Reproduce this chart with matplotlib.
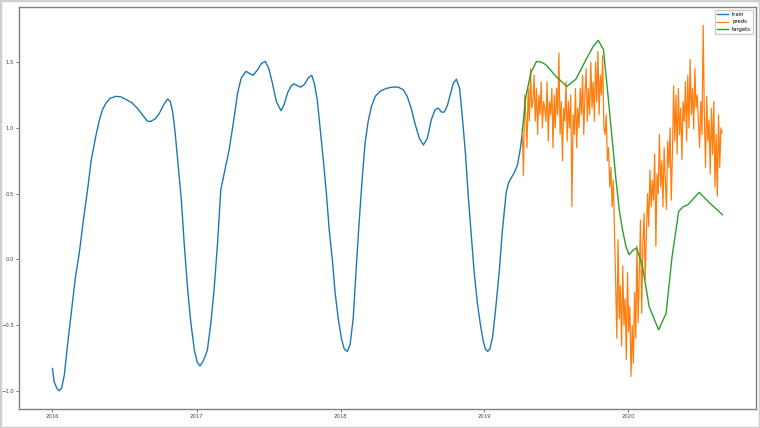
import pandas as pd
import matplotlib
matplotlib.use("Agg")
import matplotlib.pyplot as plt
import matplotlib.dates as mdates
from matplotlib.patches import Rectangle

# train: (days since 2016-01-01, value)
train_day = [0, 4, 11, 17, 23, 30, 37, 47, 58, 68, 78, 89, 98, 110, 119, 127, 136, 146,
             161, 174, 187, 202, 215, 228, 241, 250, 261, 271, 281, 292, 299, 305, 311,
             318, 327, 334, 343, 351, 360, 367, 374, 381, 387, 393, 402, 410, 419, 427,
             436, 448, 458, 470, 479, 491, 499, 509, 520, 530, 540, 549, 558, 568, 580,
             588, 597, 606, 613, 622, 630, 639, 649, 658, 665, 672, 679, 687, 695, 702,
             710, 717, 725, 733, 740, 748, 755, 763, 770, 778, 786, 793, 801, 809, 819,
             832, 847, 862, 877, 890, 900, 910, 920, 931, 941, 951, 961, 971, 979, 987,
             994, 1002, 1010, 1017, 1025, 1033, 1040, 1048, 1055, 1063, 1070, 1078, 1086,
             1093, 1098, 1104, 1110, 1117, 1125, 1134, 1141, 1151, 1157, 1164, 1172, 1180,
             1187, 1192]
train_val = [-0.83, -0.93, -0.98, -1.00, -0.98, -0.88, -0.68, -0.42, -0.14, 0.05, 0.29,
             0.53, 0.75, 0.94, 1.06, 1.14, 1.19, 1.225, 1.24, 1.235, 1.215, 1.19, 1.15,
             1.10, 1.05, 1.05, 1.07, 1.11, 1.17, 1.22, 1.20, 1.12, 0.97, 0.74, 0.45, 0.13,
             -0.23, -0.48, -0.69, -0.78, -0.81, -0.78, -0.74, -0.69, -0.48, -0.23, 0.13,
             0.53, 0.66, 0.83, 1.02, 1.27, 1.38, 1.43, 1.415, 1.40, 1.44, 1.49, 1.505,
             1.45, 1.34, 1.20, 1.13, 1.18, 1.27, 1.32, 1.335, 1.32, 1.31, 1.33, 1.38, 1.40,
             1.33, 1.21, 1.00, 0.76, 0.50, 0.23, 0.00, -0.25, -0.45, -0.60, -0.68, -0.70,
             -0.65, -0.45, -0.10, 0.28, 0.62, 0.88, 1.05, 1.16, 1.24, 1.28, 1.30, 1.31,
             1.31, 1.29, 1.24, 1.15, 1.03, 0.92, 0.87, 0.92, 1.06, 1.14, 1.15, 1.12, 1.12,
             1.17, 1.26, 1.34, 1.37, 1.30, 1.08, 0.80, 0.48, 0.17, -0.10, -0.33, -0.50,
             -0.62, -0.68, -0.70, -0.68, -0.585, -0.36, -0.08, 0.20, 0.505, 0.58, 0.62,
             0.66, 0.72, 0.84, 0.96]

# targets: (days since 2016-01-01, value)
target_day = [1192, 1201, 1214, 1228, 1240, 1252, 1278, 1305, 1328, 1354, 1372, 1385,
              1398, 1409, 1421, 1430, 1438, 1446, 1455, 1463, 1473, 1482, 1497, 1514,
              1538, 1557, 1572, 1589, 1600, 1612, 1641, 1667, 1700]
target_val = [0.97, 1.24, 1.42, 1.505, 1.50, 1.48, 1.39, 1.315, 1.37, 1.52, 1.62, 1.665,
              1.595, 1.265, 0.885, 0.60, 0.38, 0.23, 0.10, 0.035, 0.07, 0.087, -0.05,
              -0.36, -0.535, -0.41, 0.02, 0.365, 0.40, 0.415, 0.51, 0.43, 0.34]

# preds: every 3 days from 2019-04-07
preds_start = "2019-04-07"
preds_val = [
    1.00, 0.64, 1.25, 1.10, 0.85, 1.30, 1.05, 1.45, 1.15, 1.20,
    1.40, 1.05, 1.30, 0.95, 1.25, 1.10, 1.35, 1.00, 1.20, 1.15,
    1.05, 1.35, 0.90, 1.20, 1.10, 1.30, 0.85, 1.25, 1.00, 1.30,
    1.10, 1.57, 0.95, 1.20, 0.75, 1.15, 1.05, 1.35, 0.90, 1.20,
    1.00, 1.25, 0.40, 1.10, 0.95, 1.30, 0.85, 1.15, 1.00, 1.30,
    1.10, 1.40, 0.95, 1.25, 1.45, 1.05, 1.30, 1.10, 1.50, 1.15,
    1.35, 1.05, 1.50, 1.20, 1.58, 1.10, 1.40, 1.25, 1.55, 1.00,
    0.95, 1.10, 0.75, 0.85, 0.55, 0.70, 0.40, 0.60, 0.22, -0.20,
    -0.60, 0.15, -0.45, -0.20, -0.66, -0.05, -0.50, -0.30, -0.76, -0.10,
    -0.55, -0.36, -0.89, -0.50, -0.79, -0.25, -0.60, 0.10, -0.48, -0.10,
    0.30, -0.41, 0.10, 0.35, -0.15, 0.20, 0.50, 0.25, 0.68, 0.40,
    0.60, 0.45, 0.80, 0.10, 0.65, 0.50, 0.95, 0.55, 0.75, 0.40,
    0.85, 0.60, 0.38, 0.90, 0.70, 1.00, 0.45, 0.80, 1.32, 0.90,
    1.25, 0.80, 1.30, 0.95, 1.15, 0.76, 1.20, 1.05, 1.35, 0.90,
    1.40, 1.00, 1.52, 1.10, 1.30, 0.99, 1.45, 1.15, 1.25, 1.05,
    0.85, 1.20, 0.95, 1.78, 1.10, 0.70, 1.24, 0.90, 1.06, 0.65,
    1.15, 0.80, 1.20, 0.55, 0.95, 0.48, 1.10, 0.70, 1.00, 0.96,
]

base = pd.Timestamp("2016-01-01")
train_x = base + pd.to_timedelta(train_day, unit="D")
target_x = base + pd.to_timedelta(target_day, unit="D")
preds_x = pd.date_range(preds_start, periods=len(preds_val), freq="3D")

fig = plt.figure(figsize=(7.6, 4.28), dpi=100)
ax = fig.add_axes([0.025, 0.044, 0.9697, 0.9396])

ax.plot(train_x, train_val, color="#1f77b4", lw=1.0, label="train")
ax.plot(preds_x, preds_val, color="#ff7f0e", lw=0.9, label="preds")
ax.plot(target_x, target_val, color="#2ca02c", lw=1.0, label="targets")

ax.xaxis.set_major_locator(mdates.YearLocator())
ax.xaxis.set_major_formatter(mdates.DateFormatter("%Y"))
ax.set_yticks([-1.0, -0.5, 0.0, 0.5, 1.0, 1.5])

ax.tick_params(labelsize=3.8, length=2, width=0.5, pad=1.5, colors="#444444")
for s in ax.spines.values():
    s.set_color("#808080")
    s.set_linewidth(1.0)

ax.legend(loc="upper right", fontsize=3.8, handlelength=2.0, borderpad=0.4,
          labelspacing=0.5, framealpha=1, edgecolor="#cccccc")

# light frame around the whole picture
fig.add_artist(Rectangle((0, 0), 1, 1, transform=fig.transFigure, fill=False,
                         ec="#cfcfcf", lw=2.5))

fig.savefig("out.png", dpi=100)
